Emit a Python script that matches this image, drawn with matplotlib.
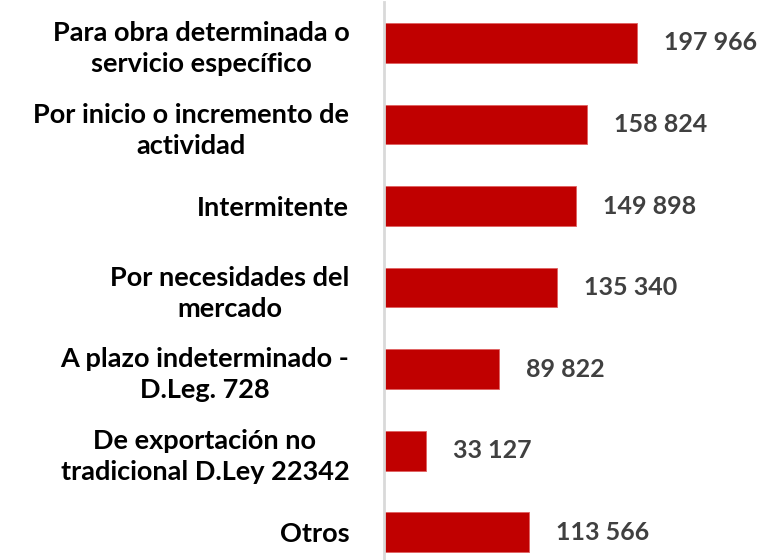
import matplotlib
matplotlib.use("Agg")
import matplotlib.pyplot as plt

categories = [
    "Para obra determinada o\nservicio específico",
    "Por inicio o incremento de\nactividad",
    "Intermitente",
    "Por necesidades del\nmercado",
    "A plazo indeterminado -\nD.Leg. 728",
    "De exportación no\ntradicional D.Ley 22342",
    "Otros",
]
values = [197966, 158824, 149898, 135340, 89822, 33127, 113566]
value_labels = ["197 966", "158 824", "149 898", "135 340", "89 822", "33 127", "113 566"]

W, H = 780, 560
fig = plt.figure(figsize=(W / 100, H / 100), dpi=100)
left_px, right_px, top_px, bot_px = 384, 770, 2, 560
ax = fig.add_axes([left_px / W, 1 - bot_px / H, (right_px - left_px) / W, (bot_px - top_px) / H])

pos = list(range(len(categories)))
ax.barh(pos, values, height=0.49, color="#C00000", edgecolor="#E06060", linewidth=0.6)
ax.set_ylim(6.343, -0.503)
ax.set_xlim(0, (right_px - left_px) * 782.5)

for p, v, lab in zip(pos, values, value_labels):
    ax.annotate(lab, xy=(v, p), xytext=(27, 0), textcoords="offset pixels",
                ha="left", va="center", fontsize=18, fontweight="bold",
                color="#404040", family="Lato")

ax.set_yticks(pos)
ax.set_yticklabels(categories, fontsize=19.5, fontweight="bold", family="Lato",
                   color="black", linespacing=1.36)
ax.tick_params(axis="y", length=0, pad=25)
ax.set_xticks([])
for s in ["top", "right", "bottom"]:
    ax.spines[s].set_visible(False)
ax.spines["left"].set_color("#D9D9D9")
ax.spines["left"].set_linewidth(2)
for t in ax.get_yticklabels():
    t.set_ha("right")
    t.set_multialignment("center")

fig.savefig("out.png", dpi=100)
